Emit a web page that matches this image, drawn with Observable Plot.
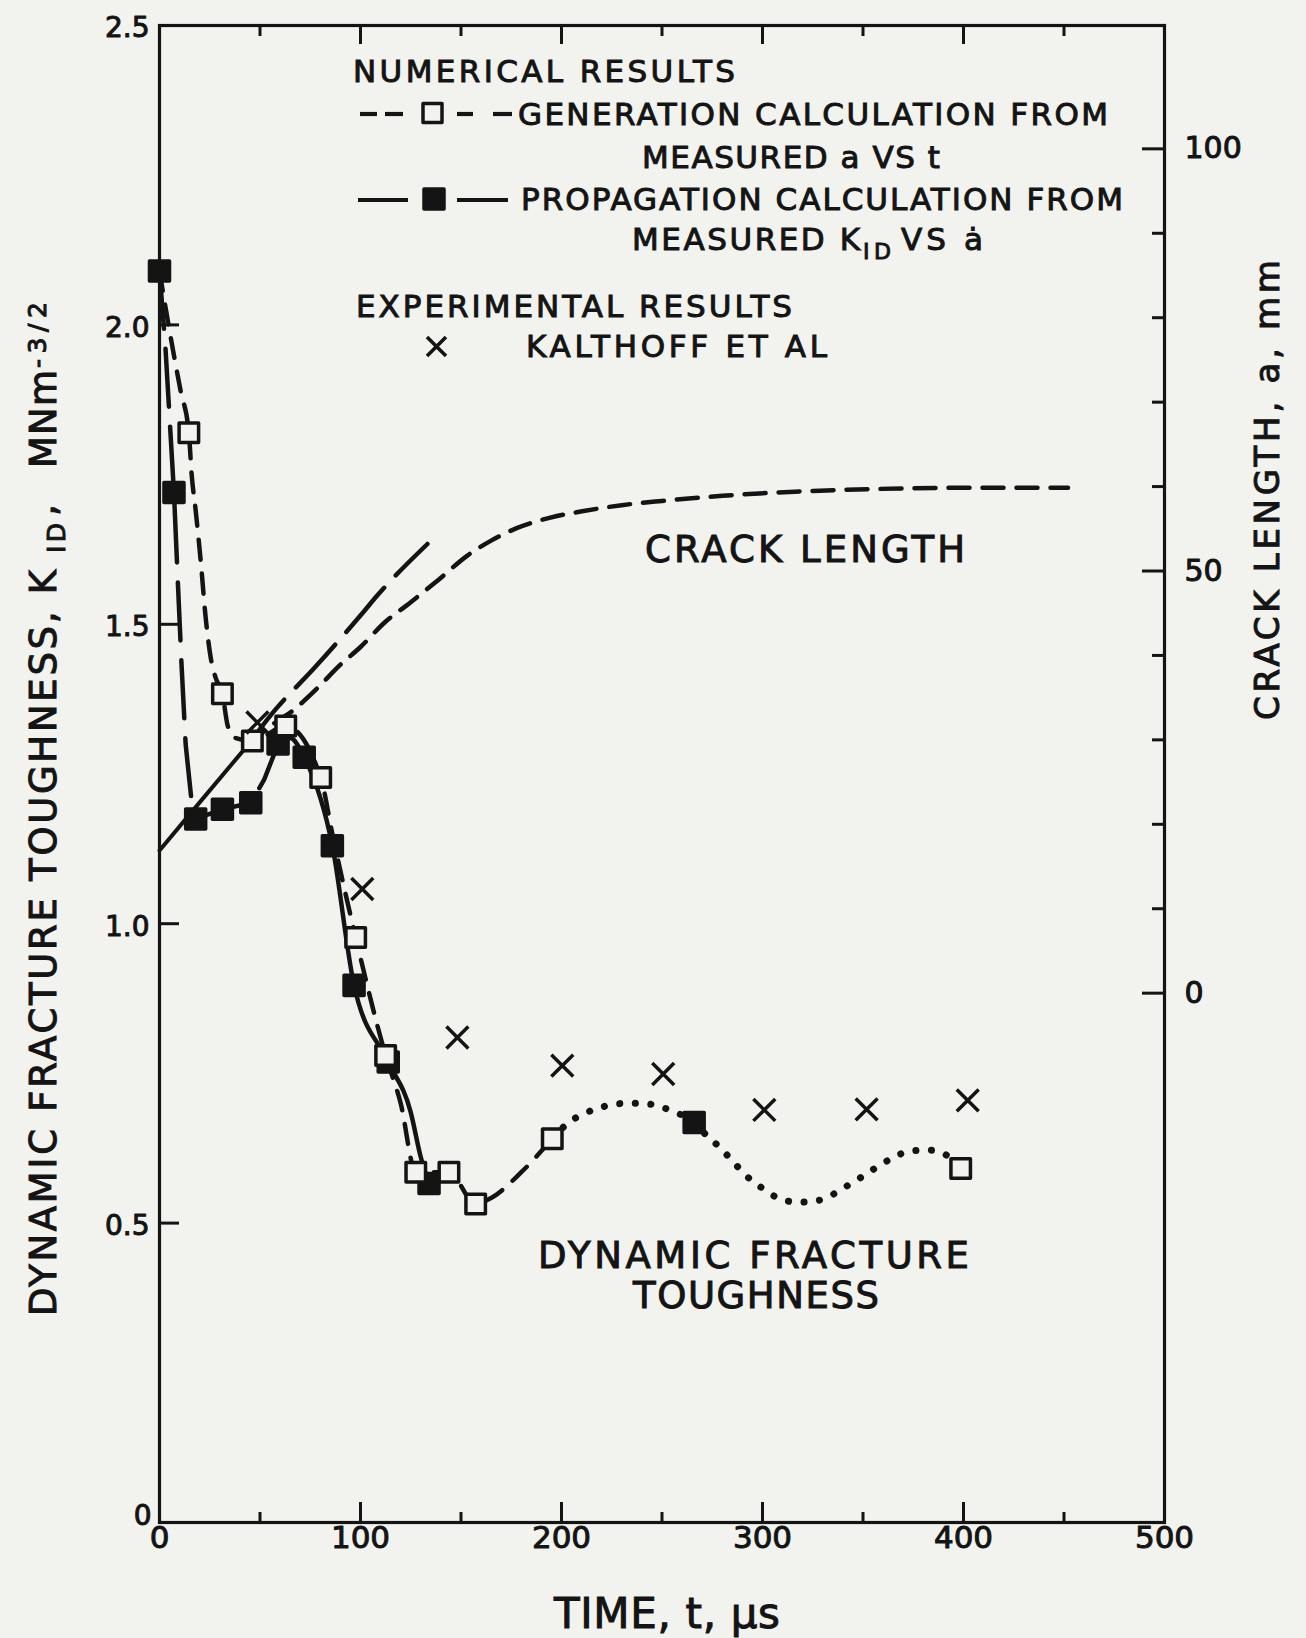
<!DOCTYPE html>
<html>
<head>
<meta charset="utf-8">
<script src="https://cdn.jsdelivr.net/npm/d3@7"></script>
<script src="https://cdn.jsdelivr.net/npm/@observablehq/plot@0.6"></script>
<style>
  html, body { margin: 0; padding: 0; background: #f2f2ef; }
  #chart { width: 1306px; height: 1638px; }
</style>
</head>
<body>
<div id="chart"></div>
<script>
// ---------------- DATA ----------------
// axis ticks
const xTickMajor = [0, 100, 200, 300, 400, 500];
const xTickMinor = [50, 150, 250, 350, 450];
const xTickLabels = [0, 100, 200, 300, 400, 500];
const kTickMajor = [0.5, 1.0, 1.5, 2.0];
const kTickLabels = [0.5, 1.0, 1.5, 2.0, 2.5];
const aTickMajor = [0, 50, 100];
const aTickMinor = [10, 20, 30, 40, 60, 70, 80, 90];
const aTickLabels = [0, 50, 100];

// propagation calculation (filled squares), t in µs, K in MNm^-3/2
const propT = [0, 7.2, 18.0, 31.3, 45.4, 59.0, 72.0, 86.0, 96.8, 113.8, 134.1, 266.0];
const propK = [2.09, 1.72, 1.175, 1.191, 1.202, 1.30, 1.278, 1.13, 0.897, 0.769, 0.566, 0.668];
// propagation curve (long dash, then solid)
const propLineT1 = [0, 3, 7.2, 9, 11, 13, 16.4, 18, 31.3, 45.4, 52, 59];
const propLineK1 = [2.09, 1.96, 1.72, 1.58, 1.43, 1.30, 1.19, 1.175, 1.191, 1.202, 1.24, 1.30];
const propLineT2 = [59, 65, 72, 86, 96.8, 113.8, 125, 130, 134.1];
const propLineK2 = [1.30, 1.31, 1.278, 1.13, 0.897, 0.769, 0.685, 0.61, 0.566];

// generation calculation (open squares)
const genT = [14.6, 31.3, 46.2, 62.8, 80.2, 97.6, 112.5, 127.5, 144.0, 157.3, 195.4, 398.6];
const genK = [1.82, 1.384, 1.305, 1.330, 1.244, 0.977, 0.780, 0.585, 0.585, 0.532, 0.641, 0.591];
// generation curve (short dash)
const genLineT = [0, 5, 10.5, 14.6, 16, 18, 20.5, 23, 25.5, 28, 31.3, 34, 38, 46.2, 62.8, 80.2, 86, 97.6, 112.5, 120, 127.5, 144, 157.3, 165, 180, 195.4];
const genLineK = [2.09, 1.99, 1.89, 1.82, 1.75, 1.69, 1.606, 1.51, 1.444, 1.41, 1.384, 1.33, 1.31, 1.305, 1.330, 1.244, 1.15, 0.977, 0.780, 0.70, 0.585, 0.585, 0.532, 0.542, 0.585, 0.641];
// dotted continuation
const dotT = [195.4, 202.9, 211.2, 217.8, 225.0, 232.8, 240.2, 248.5, 255.2, 265.9, 272.6, 279.2, 285.5, 291.6, 299.6, 307.7, 317.7, 326.6, 335.1, 343.0, 349.8, 357.1, 364.8, 373.1, 382.8, 391.3, 398.6];
const dotK = [0.641, 0.666, 0.683, 0.691, 0.698, 0.700, 0.700, 0.695, 0.687, 0.668, 0.645, 0.625, 0.602, 0.580, 0.559, 0.542, 0.535, 0.537, 0.548, 0.564, 0.578, 0.594, 0.609, 0.620, 0.622, 0.614, 0.591];

// experimental, Kalthoff et al
const kalT = [48.7, 100.9, 148.2, 200.4, 250.6, 300.9, 351.8, 402.1];
const kalK = [1.336, 1.058, 0.810, 0.763, 0.749, 0.689, 0.690, 0.705];

// crack length, a in mm (right axis)
const crackT0 = [0, 20, 38.7, 44];
const crackA0 = [16.9, 22.6, 27.9, 29.4];
const crackPropT = [44, 57, 77, 102, 108, 133.3];
const crackPropA = [29.4, 33.4, 38.5, 45.3, 47.0, 53.2];
const crackGenT = [44, 55, 67, 78, 90, 100, 112, 125, 139, 153, 165, 178, 194, 211, 230, 250, 280, 316, 354, 392, 452];
const crackGenA = [29.4, 31.6, 33.6, 36.0, 38.9, 41.0, 43.9, 46.3, 49.0, 51.8, 53.6, 55.1, 56.3, 57.1, 57.8, 58.3, 58.9, 59.4, 59.7, 59.85, 59.85];

// ---------------- CHART ----------------
const ink = "#141414";
const bg = "#f2f2ef";
const FONT = "'DejaVu Sans', 'Liberation Sans', sans-serif";
const W = 1306, H = 1638;

// right-hand axis (crack length, mm) expressed on the left (K) scale
const aToK = d3.scaleLinear().domain([0, 100]).range([0.884, 2.294]);

const rows = (T, V) => T.map((t, i) => ({t, v: V[i]}));
const prop = rows(propT, propK);
const gen = rows(genT, genK);
const kal = rows(kalT, kalK);

const lineW = 4.5;
const txtStroke = {fill: ink, stroke: ink, strokeWidth: 1};

const plot = Plot.plot({
  width: W,
  height: H,
  marginLeft: 159,
  marginRight: 142,
  marginTop: 25,
  marginBottom: 116,
  x: {domain: [0, 500]},
  y: {domain: [0, 2.5]},
  style: {background: "transparent", color: ink, fontFamily: FONT, overflow: "visible"},
  marks: [
    // ticks (inward)
    Plot.axisX(xTickMajor, {anchor: "bottom", tickSize: -20, fill: "none", strokeWidth: 3, label: null}),
    Plot.axisX(xTickMinor, {anchor: "bottom", tickSize: -10, fill: "none", strokeWidth: 3, label: null}),
    Plot.axisX(xTickMajor, {anchor: "top", tickSize: -18, fill: "none", strokeWidth: 3, label: null}),
    Plot.axisX(xTickMinor, {anchor: "top", tickSize: -10, fill: "none", strokeWidth: 3, label: null}),
    Plot.axisY(kTickMajor, {anchor: "left", tickSize: -20, fill: "none", strokeWidth: 3, label: null}),
    Plot.axisY(aTickMajor.map(aToK), {anchor: "right", tickSize: -23, fill: "none", strokeWidth: 3, label: null}),
    Plot.axisY(aTickMinor.map(aToK), {anchor: "right", tickSize: -13, fill: "none", strokeWidth: 3, label: null}),
    // tick labels
    Plot.text(xTickLabels, {x: d => d, frameAnchor: "bottom", dy: 25, text: d => String(d), fontSize: 31, ...txtStroke}),
    Plot.text(kTickLabels, {y: d => d, frameAnchor: "left", dx: -10, dy: 3, textAnchor: "end", text: d => d.toFixed(1), fontSize: 28, ...txtStroke}),
    Plot.text([0], {y: d => d, frameAnchor: "left", dx: -8, dy: -6, textAnchor: "end", text: d => String(d), fontSize: 28, ...txtStroke}),
    Plot.text(aTickLabels, {y: d => aToK(d), frameAnchor: "right", dx: 20, textAnchor: "start", text: d => String(d), fontSize: 30, ...txtStroke}),
    // frame
    Plot.frame({stroke: ink, strokeWidth: 3.2}),
    // crack length curves
    Plot.line(rows(crackT0, crackA0), {x: "t", y: d => aToK(d.v), stroke: ink, strokeWidth: 4}),
    Plot.line(rows(crackPropT, crackPropA), {x: "t", y: d => aToK(d.v), stroke: ink, strokeWidth: lineW, strokeDasharray: "58,17", curve: "monotone-x"}),
    Plot.line(rows(crackGenT, crackGenA), {x: "t", y: d => aToK(d.v), stroke: ink, strokeWidth: lineW, strokeDasharray: "21,13", curve: "monotone-x"}),
    // K curves
    Plot.line(rows(genLineT, genLineK), {x: "t", y: "v", stroke: ink, strokeWidth: lineW, strokeDasharray: "20,14", curve: "monotone-x"}),
    Plot.line(rows(propLineT1, propLineK1), {x: "t", y: "v", stroke: ink, strokeWidth: lineW, strokeDasharray: "58,20", curve: "linear"}),
    Plot.line(rows(propLineT2, propLineK2), {x: "t", y: "v", stroke: ink, strokeWidth: lineW, curve: "monotone-x"}),
    Plot.line(rows(dotT, dotK), {x: "t", y: "v", stroke: ink, strokeWidth: 7, strokeDasharray: "0.1,15.5", strokeLinecap: "round", curve: "monotone-x"}),
    // markers
    Plot.dot(prop, {x: "t", y: "v", symbol: "square", r: 11.3, fill: ink, stroke: ink, strokeWidth: 3.5, strokeLinejoin: "round"}),
    Plot.dot(gen, {x: "t", y: "v", symbol: "square", r: 11, fill: bg, stroke: ink, strokeWidth: 3.5, strokeLinejoin: "round"}),
    Plot.dot(kal, {x: "t", y: "v", symbol: "times", r: 10, stroke: ink, strokeWidth: 3.5})
  ]
});

document.getElementById("chart").appendChild(plot);

// ---------------- annotations & legend ----------------
const svg = d3.select(plot);
const ann = svg.append("g").attr("font-family", FONT).attr("text-anchor", "start")
  .attr("fill", ink).attr("stroke", ink).attr("stroke-width", 1);

function label(parent, x, y, str, size, len) {
  const t = parent.append("text").attr("x", x).attr("y", y).attr("font-size", size)
    .attr("text-anchor", "start").text(str);
  if (len) t.attr("textLength", len).attr("lengthAdjust", "spacing");
  return t;
}

// legend text
label(ann, 353, 82, "NUMERICAL RESULTS", 31, 382);
label(ann, 518, 125, "GENERATION CALCULATION FROM", 31, 590);
label(ann, 642, 168, "MEASURED a VS t", 31, 298);
label(ann, 521, 210, "PROPAGATION CALCULATION FROM", 31, 602);
label(ann, 632, 250, "MEASURED K", 31, 228);
label(ann, 863, 259, "ID", 22, 28);
label(ann, 901, 250, "VS ȧ", 31, 82);
label(ann, 356, 317, "EXPERIMENTAL RESULTS", 31, 436);
label(ann, 526, 357, "KALTHOFF ET AL", 31, 301);

// curve labels
label(ann, 645, 562, "CRACK LENGTH", 37, 320);
label(ann, 538, 1268, "DYNAMIC FRACTURE", 37, 431);
label(ann, 633, 1308, "TOUGHNESS", 37, 246);

// axis titles
label(ann, 554, 1628, "TIME, t, µs", 42, 226);

const leftT = ann.append("g").attr("transform", "translate(56,1316) rotate(-90)");
label(leftT, 0, 0, "DYNAMIC FRACTURE TOUGHNESS, K", 37, 746);
label(leftT, 763, 9, "ID", 25, 30);
label(leftT, 800, 0, ",", 37, null);
label(leftT, 848, 0, "MNm", 37, 98);
label(leftT, 948, -10, "-3/2", 25, 66);

const rightT = ann.append("g").attr("transform", "translate(1279,720) rotate(-90)");
label(rightT, 0, 0, "CRACK LENGTH, a, mm", 34, 460);

// legend symbols
const leg = svg.append("g").attr("stroke", ink).attr("stroke-width", 4.2).attr("fill", "none");
[[360, 377], [385, 403], [457, 473], [493, 512]].forEach(([a, b]) =>
  leg.append("line").attr("x1", a).attr("x2", b).attr("y1", 114).attr("y2", 114));
leg.append("rect").attr("x", 423).attr("y", 103.5).attr("width", 19).attr("height", 19)
  .attr("stroke-width", 3.5).attr("fill", bg).attr("stroke-linejoin", "round");
[[358, 408], [457, 508]].forEach(([a, b]) =>
  leg.append("line").attr("x1", a).attr("x2", b).attr("y1", 200).attr("y2", 200));
leg.append("rect").attr("x", 424).attr("y", 189).attr("width", 20).attr("height", 20)
  .attr("stroke-width", 3.5).attr("fill", ink).attr("stroke-linejoin", "round");
leg.append("path").attr("d", "M427,337L446,356M446,337L427,356").attr("stroke-width", 3.6);
</script>
</body>
</html>
